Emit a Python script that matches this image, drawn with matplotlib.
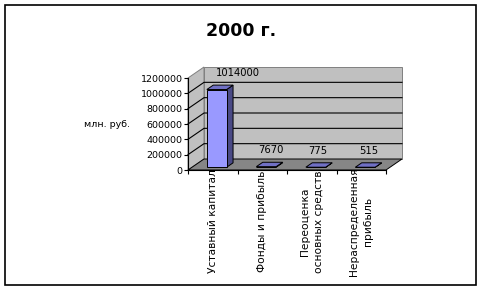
import numpy as np
import matplotlib
matplotlib.use("Agg")
import matplotlib.pyplot as plt
from matplotlib.patches import Polygon, Rectangle
from matplotlib.transforms import IdentityTransform

# ---- data ----
categories = ["Уставный капитал", "Фонды и прибыль",
              "Переоценка\nосновных средств", "Нераспределенная\nприбыль"]
values = [1014000, 7670, 775, 515]
ytick_values = [0, 200000, 400000, 600000, 800000, 1000000, 1200000]
title = "2000 г."
ylabel = "млн. руб."

# ---- style ----
W, H = 483, 293
DEPTH = np.array([16.0, 11.0])   # oblique depth vector in pixels
BAR_W = 0.4
D0, D1 = 0.25, 0.65
label_dx = [18, 1, -1, 0]        # pixel nudges of value labels
label_dy = 14

fig = plt.figure(figsize=(W / 100, H / 100), dpi=100)
fig.patch.set_facecolor("white")

# front plane: x 188..386 px, y(0)=170 px, y(max)=78 px
ax = fig.add_axes([188 / W, (H - 170) / H, 198 / W, 92 / H])
ax.set_xlim(0, len(categories))
ax.set_ylim(0, ytick_values[-1])
ax.patch.set_visible(False)
for s in ["top", "right"]:
    ax.spines[s].set_visible(False)
ax.spines["left"].set_linewidth(0.8)
ax.spines["bottom"].set_linewidth(0.8)
ax.spines["left"].set_zorder(10)
ax.spines["bottom"].set_zorder(10)

ax.set_yticks(ytick_values)
ax.set_yticklabels([str(v) for v in ytick_values], fontsize=6.8)
ax.tick_params(axis="y", length=3, width=0.8, pad=1)

ax.set_xticks(np.arange(len(categories) + 1))
ax.set_xticklabels([])
ax.tick_params(axis="x", which="major", length=3, width=0.8)
ax.set_xticks(np.arange(len(categories)) + 0.5, minor=True)
ax.set_xticklabels(categories, minor=True, rotation=90, fontsize=7.7,
                   va="center", ha="center", multialignment="center",
                   linespacing=1.55)
ax.tick_params(axis="x", which="minor", length=0, pad=37)

fig.canvas.draw()


def P(x, y, d):
    return ax.transData.transform((x, y)) + d * DEPTH


def poly(pts, fc, ec, lw=0.7, z=1):
    p = Polygon(np.array(pts), closed=True, facecolor=fc, edgecolor=ec,
                linewidth=lw, transform=IdentityTransform(), clip_on=False,
                zorder=z)
    ax.add_patch(p)


n = len(categories)
ymax = ytick_values[-1]
wall = "#c0c0c0"
floor = "#868686"
edge = "#808080"

# back wall
poly([P(0, 0, 1), P(n, 0, 1), P(n, ymax, 1), P(0, ymax, 1)], wall, edge, z=1)
# side wall
poly([P(0, 0, 0), P(0, 0, 1), P(0, ymax, 1), P(0, ymax, 0)], wall, edge, z=1)
# floor
poly([P(0, 0, 0), P(n, 0, 0), P(n, 0, 1), P(0, 0, 1)], floor, "black", z=2)

# gridlines
for v in ytick_values[1:-1]:
    a, b, c = P(0, v, 0), P(0, v, 1), P(n, v, 1)
    ax.plot([a[0], b[0], c[0]], [a[1], b[1], c[1]], color="black", lw=0.8,
            transform=IdentityTransform(), clip_on=False, zorder=3)

# bars
front_c, top_c, side_c = "#9999ff", "#7070c4", "#4a4a86"
for i, v in enumerate(values):
    xl = i + 0.5 - BAR_W / 2
    xr = i + 0.5 + BAR_W / 2
    poly([P(xr, 0, D0), P(xr, 0, D1), P(xr, v, D1), P(xr, v, D0)], side_c, "black", z=4)
    poly([P(xl, v, D0), P(xr, v, D0), P(xr, v, D1), P(xl, v, D1)], top_c, "black", z=4)
    poly([P(xl, 0, D0), P(xr, 0, D0), P(xr, v, D0), P(xl, v, D0)], front_c, "black", z=5)
    dm = (D0 + D1) / 2
    ax.annotate(str(v), xy=(i + 0.5, v),
                xytext=((dm * DEPTH[0] + label_dx[i]) * 0.72,
                        (dm * DEPTH[1] + label_dy) * 0.72),
                textcoords="offset points", ha="center", va="center",
                fontsize=7.2, annotation_clip=False, zorder=6)

# axis title and chart title
fig.text(107 / W, 1 - 124 / H, ylabel, fontsize=6.8, ha="center", va="center")
fig.text(241.5 / W, 1 - 31 / H, title, fontsize=12.5, fontweight="bold",
         ha="center", va="center")

# outer border
fig.patches.append(Rectangle((5 / W, 1 - 285 / H), 471 / W, 280 / H,
                             transform=fig.transFigure, fill=False,
                             edgecolor="black", linewidth=1.2))

fig.savefig("out.png", dpi=100)
